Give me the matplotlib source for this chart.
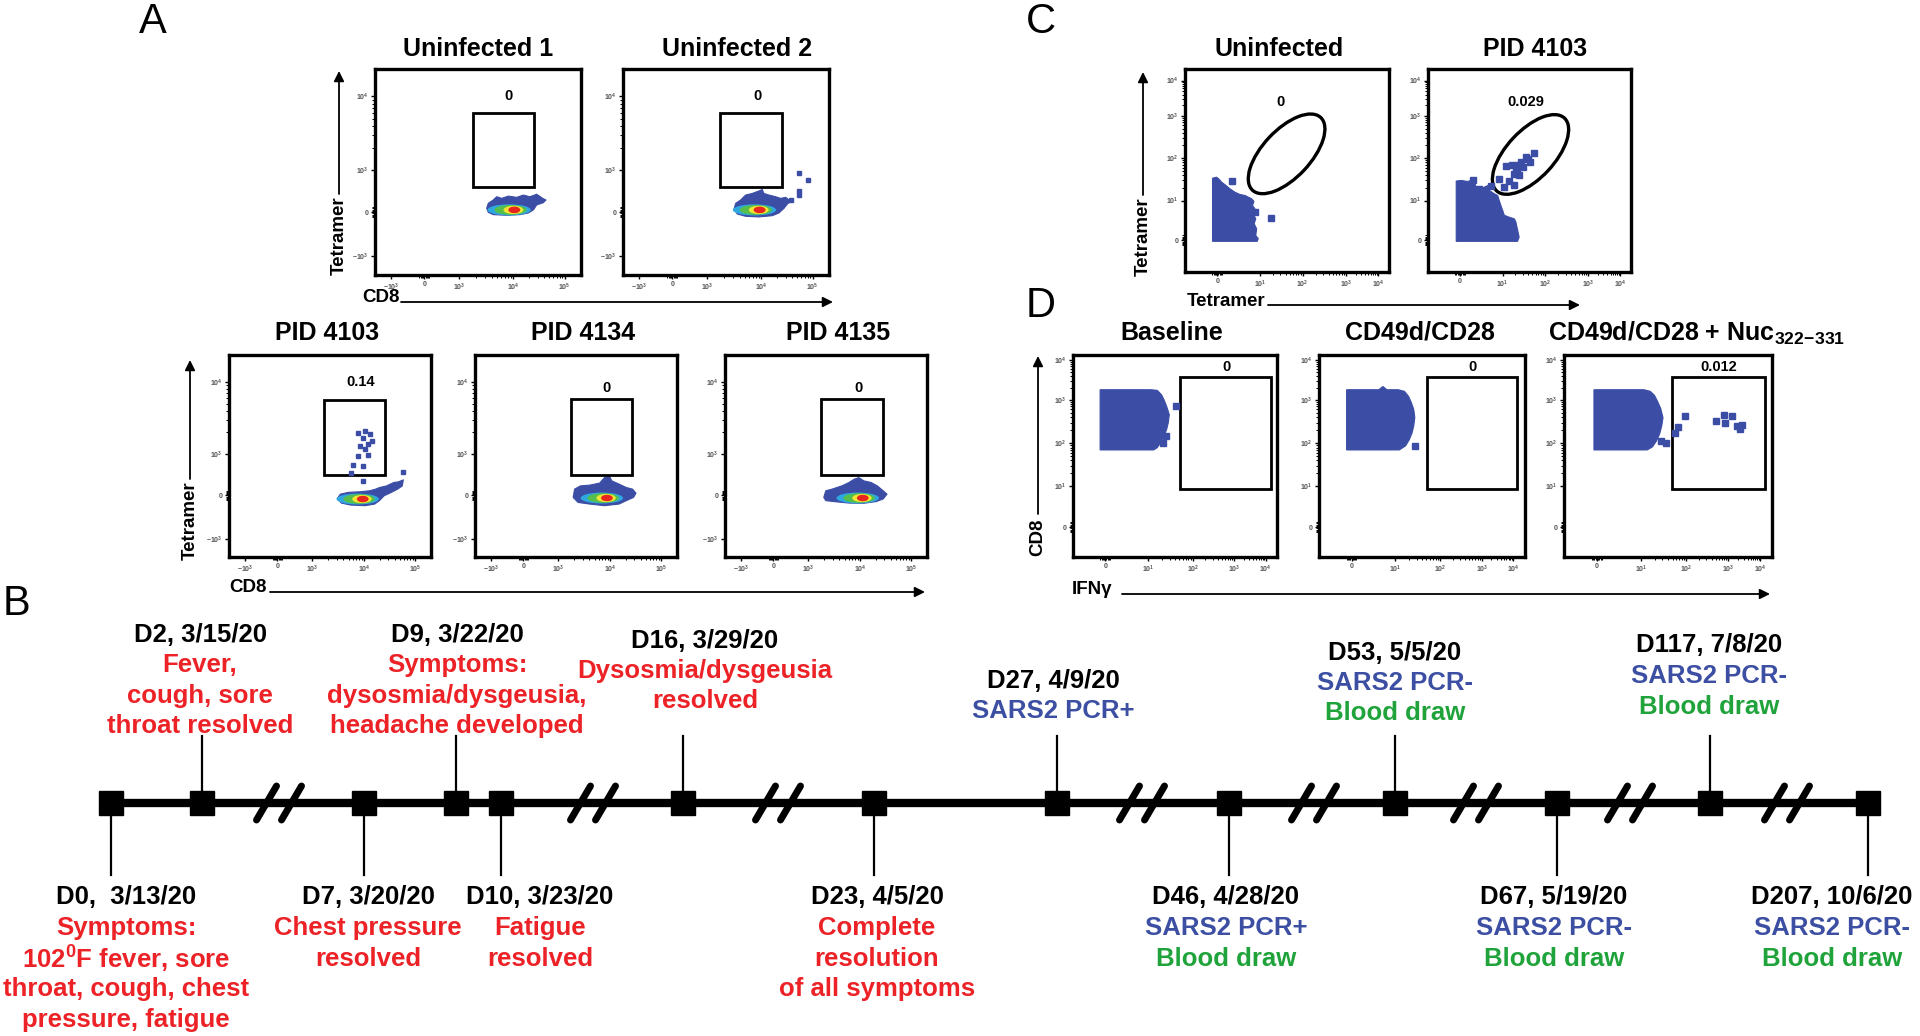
import matplotlib
matplotlib.use('Agg')
import matplotlib.pyplot as plt
from matplotlib.patches import Polygon, Ellipse, Rectangle
import numpy as np

plt.rcParams['font.family'] = ['Liberation Sans', 'DejaVu Sans']
plt.rcParams['font.weight'] = 'bold'
plt.rcParams['mathtext.fontset'] = 'custom'
plt.rcParams['mathtext.rm'] = 'Liberation Sans:bold'
plt.rcParams['mathtext.bf'] = 'Liberation Sans:bold'
plt.rcParams['mathtext.it'] = 'Liberation Sans:bold:italic'
plt.rcParams['mathtext.default'] = 'rm'

# ======================= DATA =======================
# ---- Panel A: CD8 vs Tetramer (display channel scale 0-100) ----
A_titles = ['Uninfected 1', 'Uninfected 2', 'PID 4103', 'PID 4134', 'PID 4135']
A_freq = ['0', '0', '0.14', '0', '0']
A_xtick_labels = [r'$-10^{3}$', '0', r'$10^{3}$', r'$10^{4}$', r'$10^{5}$']
A_xtick_chan = [8, 24, 41, 67, 92]
A_ytick_labels = [r'$-10^{3}$', '0', r'$10^{3}$', r'$10^{4}$']
A_ytick_chan = [9, 30.5, 51, 86.7]
A_gate_x0 = [47.4, 47.1, 46.8, 47.4, 47.7]
A_gate_x1 = [77.2, 77.3, 77.1, 77.8, 78.3]
A_gate_y0 = [42.7, 42.7, 40.7, 40.7, 40.7]
A_gate_y1 = [78.8, 78.8, 77.9, 78.2, 78.2]
A_freq_x = [65.0, 65.4, 65.0, 65.3, 66.3]
A_freq_y = [87.0, 87.0, 86.4, 83.6, 83.6]
A_pop_x = [
    [54.2, 55.0, 57.4, 59.1, 61.5, 64.7, 68.8, 72.0, 75.2, 78.5, 81.4, 83.0, 81.7, 78.5, 76.9, 74.4, 70.4, 63.9, 57.4, 55.0],
    [53.9, 54.7, 57.1, 59.5, 62.8, 66.0, 67.6, 68.4, 70.9, 74.1, 76.5, 79.0, 80.6, 82.2, 79.8, 78.2, 75.7, 72.5, 66.0, 59.5, 55.5],
    [53.7, 55.1, 59.1, 65.0, 69.7, 72.6, 74.5, 78.0, 81.6, 83.9, 86.3, 85.8, 83.5, 80.4, 76.8, 74.5, 72.1, 67.4, 60.3, 55.6],
    [48.6, 49.3, 52.2, 56.9, 61.7, 64.1, 66.5, 67.7, 71.3, 74.9, 78.0, 79.7, 78.5, 74.9, 71.3, 64.1, 56.9, 51.0],
    [48.9, 49.9, 53.0, 57.8, 61.4, 63.9, 66.3, 68.7, 72.3, 75.4, 78.3, 80.2, 78.3, 74.7, 68.7, 61.4, 54.2, 49.9],
]
A_pop_y = [
    [32.4, 34.8, 36.4, 38.0, 37.2, 38.3, 37.7, 38.8, 38.0, 39.2, 37.2, 36.4, 35.1, 34.0, 31.6, 30.1, 29.3, 29.0, 29.3, 30.4],
    [32.0, 34.8, 36.4, 38.8, 39.6, 40.8, 41.5, 39.6, 38.8, 38.0, 37.2, 37.7, 36.4, 36.1, 34.5, 32.4, 30.1, 28.8, 28.2, 28.5, 29.6],
    [29.0, 31.1, 32.0, 32.3, 32.8, 33.6, 34.4, 35.2, 36.9, 37.2, 38.2, 35.2, 33.6, 32.0, 30.3, 27.9, 26.2, 25.4, 25.7, 26.7],
    [29.5, 33.6, 35.2, 35.6, 36.6, 39.3, 40.2, 37.7, 36.1, 34.4, 33.6, 31.6, 29.5, 27.9, 26.2, 25.4, 26.2, 27.0],
    [29.5, 32.8, 33.6, 35.2, 36.9, 38.5, 39.3, 37.7, 36.9, 35.2, 32.8, 31.1, 28.7, 27.4, 26.6, 26.7, 27.4, 27.9],
]
A_core_x = [67.6, 66.3, 66.2, 65.3, 68.2]
A_core_y = [31.6, 31.6, 28.7, 29.2, 29.2]
A_events_x = [
    [],
    [85.4, 90.0, 85.4, 85.4, 81.4, 78.2],
    [63.8, 67.4, 69.7, 66.2, 70.9, 68.6, 65.0, 67.4, 63.8, 68.6, 61.5, 66.2, 60.3, 66.2, 86.3],
    [],
    [],
]
A_events_y = [
    [],
    [49.5, 45.9, 40.8, 38.8, 36.4, 35.3],
    [61.5, 62.3, 60.7, 59.0, 57.4, 55.7, 54.9, 53.3, 50.0, 50.3, 45.4, 45.1, 41.8, 37.7, 42.1],
    [],
    [],
]

# ---- Panel C: Tetramer vs Tetramer ----
C_titles = ['Uninfected', 'PID 4103']
C_freq = ['0', '0.029']
C_tick_labels = ['0', r'$10^{1}$', r'$10^{2}$', r'$10^{3}$', r'$10^{4}$']
C_xtick_chan = [15.8, 36.7, 57.6, 79.0, 94.6]
C_ytick_chan = [15.6, 35.2, 56.0, 77.0, 94.3]
C_gate_cx = [49.8, 50.5]
C_gate_cy = [58.2, 57.9]
C_gate_w = [49.0, 49.0]
C_gate_h = [23.5, 23.5]
C_gate_angle = [47, 47]
C_freq_x = [47.0, 48.2]
C_freq_y = [83.9, 83.9]
C_pop_x = [
    [13.5, 13.5, 15.5, 16.8, 17.9, 20.1, 22.0, 24.5, 26.9, 29.4, 31.0, 32.6, 33.8, 33.1, 34.3, 33.4, 34.7, 33.9, 35.1, 34.7, 35.9, 35.4],
    [13.9, 13.9, 16.3, 19.6, 21.2, 22.9, 23.7, 26.1, 29.4, 30.2, 32.7, 34.3, 35.1, 35.9, 36.8, 37.6, 40.0, 42.5, 43.3, 44.9, 44.1],
]
C_pop_y = [
    [15.1, 46.2, 46.7, 45.6, 44.3, 42.6, 41.0, 39.3, 38.2, 37.7, 36.9, 36.1, 34.8, 32.8, 31.1, 28.7, 26.2, 23.8, 21.3, 18.0, 16.4, 15.1],
    [15.1, 44.8, 45.1, 44.6, 45.1, 44.3, 41.8, 41.0, 42.6, 40.2, 38.5, 37.7, 35.2, 32.8, 30.3, 27.9, 27.0, 26.2, 24.6, 17.2, 15.1],
]
C_events_x = [
    [22.8, 34.3, 42.4],
    [22.4, 25.3, 31.0, 34.8, 37.6, 40.0, 42.2, 38.4, 41.2, 43.3, 44.4, 45.8, 46.6, 48.2, 49.3, 52.0, 50.3, 42.5, 44.9, 43.8],
]
C_events_y = [
    [44.6, 29.8, 26.6],
    [45.1, 40.7, 42.6, 45.6, 41.8, 44.6, 43.0, 52.0, 52.8, 50.8, 52.5, 54.1, 51.6, 56.6, 55.7, 58.7, 54.1, 48.4, 47.9, 49.5],
]

# ---- Panel D: IFNg vs CD8 ----
D_titles = ['Baseline', 'CD49d/CD28', r'CD49d/CD28 + Nuc$_{\mathbf{322\!-\!331}}$']
D_freq = ['0', '0', '0.012']
D_tick_labels = ['0', r'$10^{1}$', r'$10^{2}$', r'$10^{3}$', r'$10^{4}$']
D_xtick_chan = [15.8, 37.0, 58.7, 79.0, 94.4]
D_ytick_chan = [14.8, 35.2, 56.2, 77.9, 97.5]
D_gate_x0 = [52.3, 52.2, 52.1]
D_gate_x1 = [97.0, 96.2, 96.5]
D_gate_y0 = [33.6, 33.6, 33.6]
D_gate_y1 = [89.3, 89.3, 89.3]
D_freq_x = [75.3, 74.6, 74.3]
D_freq_y = [94.3, 94.3, 94.3]
D_pop_x = [
    [13.3, 13.3, 38.3, 41.3, 43.4, 44.6, 45.9, 47.2, 46.7, 45.9, 44.6, 42.9, 41.3, 39.5],
    [13.4, 13.4, 29.0, 31.0, 33.0, 38.5, 41.5, 43.5, 44.8, 46.0, 46.5, 46.0, 45.2, 43.8, 42.0, 39.0],
    [14.4, 14.4, 38.5, 41.5, 43.5, 45.0, 46.5, 47.6, 47.0, 46.0, 44.5, 42.5, 40.0],
]
D_pop_y = [
    [53.0, 82.8, 82.8, 82.5, 80.3, 77.9, 74.6, 70.5, 66.4, 63.1, 59.8, 56.6, 54.1, 53.0],
    [53.0, 82.8, 82.8, 84.4, 82.8, 82.8, 82.0, 79.5, 76.5, 73.0, 69.0, 65.0, 61.5, 58.0, 55.0, 53.0],
    [53.0, 82.8, 82.8, 82.0, 80.0, 77.0, 73.5, 69.0, 65.0, 61.0, 57.5, 54.5, 53.0],
]
D_events_x = [
    [50.5, 45.4, 43.9],
    [46.6],
    [58.4, 54.9, 53.4, 46.6, 49.1, 73.0, 76.8, 80.6, 77.6, 83.1, 84.4, 85.6],
]
D_events_y = [
    [74.6, 59.8, 56.2],
    [54.9],
    [70.0, 64.4, 61.5, 57.4, 56.2, 67.2, 70.5, 69.7, 66.1, 64.8, 63.4, 65.1],
]

# ---- Panel B: clinical timeline ----
RED, BLUE, GREEN = '#EC2227', '#3C4FA3', '#1FA33A'
tl_day = ['D0', 'D2', 'D7', 'D9', 'D10', 'D16', 'D23', 'D27', 'D46', 'D53', 'D67', 'D117', 'D207']
tl_date = ['3/13/20', '3/15/20', '3/20/20', '3/22/20', '3/23/20', '3/29/20', '4/5/20',
           '4/9/20', '4/28/20', '5/5/20', '5/19/20', '7/8/20', '10/6/20']
tl_notes = [
    ['Symptoms:', r'102$^{0}$F fever, sore', 'throat, cough, chest', 'pressure, fatigue'],
    ['Fever,', 'cough, sore', 'throat resolved'],
    ['Chest pressure', 'resolved'],
    ['Symptoms:', 'dysosmia/dysgeusia,', 'headache developed'],
    ['Fatigue', 'resolved'],
    ['Dysosmia/dysgeusia', 'resolved'],
    ['Complete', 'resolution', 'of all symptoms'],
    ['SARS2 PCR+'],
    ['SARS2 PCR+', 'Blood draw'],
    ['SARS2 PCR-', 'Blood draw'],
    ['SARS2 PCR-', 'Blood draw'],
    ['SARS2 PCR-', 'Blood draw'],
    ['SARS2 PCR-', 'Blood draw'],
]
tl_note_colors = [
    [RED] * 4, [RED] * 3, [RED] * 2, [RED] * 3, [RED] * 2, [RED] * 2, [RED] * 3,
    [BLUE], [BLUE, GREEN], [BLUE, GREEN], [BLUE, GREEN], [BLUE, GREEN], [BLUE, GREEN],
]
tl_side = ['below', 'above', 'below', 'above', 'below', 'above', 'below',
           'above', 'below', 'above', 'below', 'above', 'below']

# ======================= LAYOUT (pixels) =======================
W, H = 1920, 1036
fig = plt.figure(figsize=(W / 100, H / 100), dpi=100)
bg = fig.add_axes([0, 0, 1, 1])
bg.set_xlim(0, W)
bg.set_ylim(H, 0)
bg.axis('off')

A_boxes = [(375, 69, 581, 275), (623, 69, 829, 275),
           (229, 355, 431, 557), (475, 355, 677, 557), (725, 355, 927, 557)]
A_title_xy = [(478, 49), (737, 49), (327, 333), (583, 333), (838, 333)]
C_boxes = [(1185, 69, 1389, 272), (1428, 69, 1631, 272)]
C_title_xy = [(1279, 49), (1535, 49)]
D_boxes = [(1073, 355, 1277, 557), (1319, 355, 1525, 557), (1564, 355, 1772, 557)]
D_title_xy = [(1172, 333, 'center'), (1420, 333, 'center'), (1548, 333, 'left')]

POP_BLUE = '#3C4DA6'
TITLE_FS = 18
FREQ_FS = 10.5


def decade_minors(pos, pairs, zero_idx):
    out = []
    for a, b in pairs:
        pa, pb = pos[a], pos[b]
        for k in range(2, 10):
            out.append(pa + (pb - pa) * np.log10(k))
    if zero_idx is not None:
        z = pos[zero_idx]
        for d in (-2.4, -1.8, -1.2, -0.6, 0.6, 1.2, 1.8, 2.4):
            out.append(z + d)
    return out


def flow_axes(box, xt, xl, yt, yl, xpairs, ypairs, xz, yz):
    x0, y0, x1, y1 = box
    ax = fig.add_axes([x0 / W, 1 - y1 / H, (x1 - x0) / W, (y1 - y0) / H])
    ax.set_xlim(0, 100)
    ax.set_ylim(0, 100)
    for s in ax.spines.values():
        s.set_linewidth(2.4)
    ax.set_xticks(xt, xl)
    ax.set_yticks(yt, yl)
    ax.set_xticks(decade_minors(xt, xpairs, xz), minor=True)
    ax.set_yticks(decade_minors(yt, ypairs, yz), minor=True)
    ax.tick_params(which='major', direction='out', length=3, width=1.0,
                   labelsize=5, labelcolor='#555555', pad=1.5)
    ax.tick_params(which='minor', direction='out', length=2, width=0.7)
    return ax


# ---------------- Panel A ----------------
core_colors = ['#2fa8e0', '#56bf4c', '#f2e534', '#e8261d']
core_hw = [10.5, 7.8, 4.8, 2.9]
core_hh = [2.7, 2.4, 2.0, 1.6]
core_dx = [-2.5, -1.8, -0.4, 0.0]
for i, box in enumerate(A_boxes):
    ax = flow_axes(box, A_xtick_chan, A_xtick_labels, A_ytick_chan, A_ytick_labels,
                   [(2, 3), (3, 4)], [(2, 3)], 1, 1)
    ax.add_patch(Polygon(np.column_stack([A_pop_x[i], A_pop_y[i]]), closed=True,
                         facecolor=POP_BLUE, edgecolor=POP_BLUE, lw=0.8, joinstyle='round'))
    for c, hw, hh, dx in zip(core_colors, core_hw, core_hh, core_dx):
        ax.add_patch(Ellipse((A_core_x[i] + dx, A_core_y[i]), 2 * hw, 2 * hh,
                             facecolor=c, edgecolor='none'))
    if A_events_x[i]:
        ax.plot(A_events_x[i], A_events_y[i], 's', ms=3.4, color=POP_BLUE, mec=POP_BLUE)
    ax.add_patch(Rectangle((A_gate_x0[i], A_gate_y0[i]), A_gate_x1[i] - A_gate_x0[i],
                           A_gate_y1[i] - A_gate_y0[i], fill=False, lw=2.0, ec='black'))
    ax.text(A_freq_x[i], A_freq_y[i], A_freq[i], ha='center', va='center',
            fontsize=FREQ_FS, fontweight='bold')
    tx, ty = A_title_xy[i]
    bg.text(tx, ty, A_titles[i], ha='center', va='center', fontsize=TITLE_FS, fontweight='bold')

# ---------------- Panel C ----------------
for i, box in enumerate(C_boxes):
    ax = flow_axes(box, C_xtick_chan, C_tick_labels, C_ytick_chan, C_tick_labels,
                   [(1, 2), (2, 3), (3, 4)], [(1, 2), (2, 3), (3, 4)], 0, 0)
    ax.add_patch(Polygon(np.column_stack([C_pop_x[i], C_pop_y[i]]), closed=True,
                         facecolor=POP_BLUE, edgecolor=POP_BLUE, lw=0.8))
    ax.plot(C_events_x[i], C_events_y[i], 's', ms=4.2, color=POP_BLUE, mec=POP_BLUE)
    ax.add_patch(Ellipse((C_gate_cx[i], C_gate_cy[i]), C_gate_w[i], C_gate_h[i],
                         angle=C_gate_angle[i], fill=False, lw=2.4, ec='black'))
    ax.text(C_freq_x[i], C_freq_y[i], C_freq[i], ha='center', va='center',
            fontsize=FREQ_FS, fontweight='bold')
    tx, ty = C_title_xy[i]
    bg.text(tx, ty, C_titles[i], ha='center', va='center', fontsize=TITLE_FS, fontweight='bold')

# ---------------- Panel D ----------------
for i, box in enumerate(D_boxes):
    ax = flow_axes(box, D_xtick_chan, D_tick_labels, D_ytick_chan, D_tick_labels,
                   [(1, 2), (2, 3), (3, 4)], [(1, 2), (2, 3), (3, 4)], 0, 0)
    ax.add_patch(Polygon(np.column_stack([D_pop_x[i], D_pop_y[i]]), closed=True,
                         facecolor=POP_BLUE, edgecolor=POP_BLUE, lw=0.8))
    ax.plot(D_events_x[i], D_events_y[i], 's', ms=4.0, color=POP_BLUE, mec=POP_BLUE)
    ax.add_patch(Rectangle((D_gate_x0[i], D_gate_y0[i]), D_gate_x1[i] - D_gate_x0[i],
                           D_gate_y1[i] - D_gate_y0[i], fill=False, lw=2.0, ec='black'))
    ax.text(D_freq_x[i], D_freq_y[i], D_freq[i], ha='center', va='center',
            fontsize=FREQ_FS, fontweight='bold')
    tx, ty, ha = D_title_xy[i]
    bg.text(tx, ty, D_titles[i], ha=ha, va='center', fontsize=TITLE_FS, fontweight='bold')

# ---------------- axis labels & arrows ----------------
AX_FS = 13.5


def arrow(x0, y0, x1, y1):
    bg.annotate('', xy=(x1, y1), xytext=(x0, y0),
                arrowprops=dict(arrowstyle='-|>', color='black', lw=1.3,
                                mutation_scale=15, shrinkA=0, shrinkB=0))


# A top
bg.text(339, 236, 'Tetramer', rotation=90, ha='center', va='center', fontsize=AX_FS, fontweight='bold')
arrow(339, 194, 339, 71)
bg.text(381, 298, 'CD8', ha='center', va='center', fontsize=AX_FS, fontweight='bold')
arrow(401, 302, 833, 302)
# A bottom
bg.text(190, 521, 'Tetramer', rotation=90, ha='center', va='center', fontsize=AX_FS, fontweight='bold')
arrow(190, 479, 190, 360)
bg.text(248, 588, 'CD8', ha='center', va='center', fontsize=AX_FS, fontweight='bold')
arrow(270, 592, 925, 592)
# C
bg.text(1143, 237, 'Tetramer', rotation=90, ha='center', va='center', fontsize=AX_FS, fontweight='bold')
arrow(1143, 195, 1143, 72)
bg.text(1226, 302, 'Tetramer', ha='center', va='center', fontsize=AX_FS, fontweight='bold')
arrow(1268, 305, 1580, 305)
# D
bg.text(1038, 537, 'CD8', rotation=90, ha='center', va='center', fontsize=AX_FS, fontweight='bold')
arrow(1038, 514, 1038, 356)
bg.text(1092, 590, 'IFNγ', ha='center', va='center', fontsize=AX_FS, fontweight='bold')
arrow(1122, 594, 1770, 594)

# panel letters
for letter, (lx, ly) in zip('ABCD', [(153, 22), (16, 604), (1041, 22), (1041, 306)]):
    bg.text(lx, ly, letter, ha='center', va='center', fontsize=30, fontweight='normal')

# ---------------- Panel B timeline ----------------
tl_x = [111, 202, 364, 456, 501, 683, 874, 1057, 1229, 1395, 1557, 1710, 1868]
tl_text_x = [126, 200, 368, 457, 540, 705, 877, 1053, 1226, 1395, 1554, 1709, 1832]
tl_top_y = {1: 632, 3: 632, 5: 638, 7: 678, 9: 650, 11: 643}
break_x = [279, 593, 778, 1142, 1314, 1476, 1630, 1787]
LINE_Y = 803
LSP = 30.5
TL_FS = 18.5

bg.plot([tl_x[0], tl_x[-1]], [LINE_Y, LINE_Y], color='black', lw=6.0,
        solid_capstyle='butt', zorder=2)
for bx in break_x:
    for dx in (-12.5, 12.5):
        bg.plot([bx + dx - 10, bx + dx + 10], [LINE_Y + 17, LINE_Y - 17], color='black',
                lw=5.0, solid_capstyle='round', zorder=3)
bg.plot(tl_x, [LINE_Y] * len(tl_x), 's', ms=17.5, color='black', zorder=4)

for i in range(len(tl_day)):
    lines = [f'{tl_day[i]},  {tl_date[i]}' if i == 0 else f'{tl_day[i]}, {tl_date[i]}'] + tl_notes[i]
    cols = ['black'] + tl_note_colors[i]
    if tl_side[i] == 'above':
        bg.plot([tl_x[i], tl_x[i]], [736, LINE_Y - 12], color='black', lw=1.6, zorder=2)
        y0 = tl_top_y[i]
    else:
        bg.plot([tl_x[i], tl_x[i]], [LINE_Y + 12, 875], color='black', lw=1.6, zorder=2)
        y0 = 895
    for j, (s, c) in enumerate(zip(lines, cols)):
        bg.text(tl_text_x[i], y0 + j * LSP, s, ha='center', va='center_baseline',
                fontsize=TL_FS, fontweight='bold', color=c)

fig.savefig('out.png', dpi=100)
